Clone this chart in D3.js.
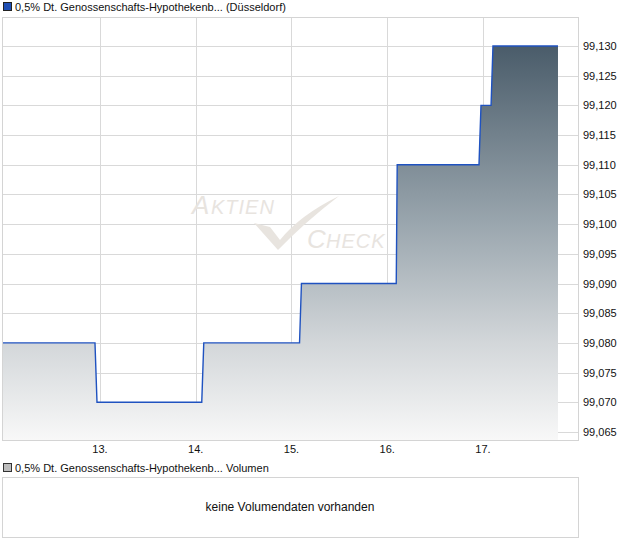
<!DOCTYPE html>
<html><head><meta charset="utf-8">
<script src="https://cdn.jsdelivr.net/npm/d3@7"></script>
<style>body{margin:0;background:#fff;} svg{display:block;font-family:"Liberation Sans",Arial,sans-serif;}</style>
</head><body>
<script>
const title = "0,5% Dt. Genossenschafts-Hypothekenb... (Düsseldorf)";
const volTitle = "0,5% Dt. Genossenschafts-Hypothekenb... Volumen";
const noVolText = "keine Volumendaten vorhanden";
// time as fractional day of month
const days = [11.977, 12.948, 12.969, 14.063, 14.084, 15.084, 15.104, 16.094, 16.104, 16.958, 16.979, 17.084, 17.104, 17.783];
const prices = [99.08, 99.08, 99.07, 99.07, 99.08, 99.08, 99.09, 99.09, 99.11, 99.11, 99.12, 99.12, 99.13, 99.13];
const xTicks = [13, 14, 15, 16, 17];
const xTickLabels = ["13.", "14.", "15.", "16.", "17."];
const yTicks = [99.065, 99.07, 99.075, 99.08, 99.085, 99.09, 99.095, 99.1, 99.105, 99.11, 99.115, 99.12, 99.125, 99.13];

const W = 620, H = 546;
const L = 2, R = 578, T = 17, B = 440;
const svg = d3.select("body").append("svg").attr("width", W).attr("height", H);

const x = d3.scaleLinear().domain([11.977, 17.992]).range([L, R]);
const y = d3.scaleLinear().domain([99.06365, 99.13488]).range([B, T]);

const defs = svg.append("defs");
const grad = defs.append("linearGradient").attr("id", "g").attr("gradientUnits", "userSpaceOnUse")
  .attr("x1", 0).attr("x2", 0).attr("y1", y(99.13)).attr("y2", B);
grad.append("stop").attr("offset", 0).attr("stop-color", "#4a5c6a");
grad.append("stop").attr("offset", 0.45).attr("stop-color", "#9aa6ae");
grad.append("stop").attr("offset", 0.75).attr("stop-color", "#d2d6d9");
grad.append("stop").attr("offset", 1).attr("stop-color", "#f8f8f8");

// legend top
svg.append("rect").attr("x", 3.5).attr("y", 2.5).attr("width", 8).attr("height", 8).attr("fill", "#1f4fb4").attr("stroke", "#222");
svg.append("text").attr("x", 15).attr("y", 10.5).attr("font-size", 11).attr("fill", "#111").text(title);

// grid
const grid = svg.append("g").attr("stroke", "#d9d9d9").attr("stroke-width", 1).attr("shape-rendering", "crispEdges");
grid.selectAll(".h").data(yTicks).enter().append("line")
  .attr("x1", L).attr("x2", R).attr("y1", d => Math.round(y(d)) + 0.5).attr("y2", d => Math.round(y(d)) + 0.5);
grid.selectAll(".v").data(xTicks).enter().append("line")
  .attr("y1", T).attr("y2", B).attr("x1", d => Math.round(x(d)) + 0.5).attr("x2", d => Math.round(x(d)) + 0.5);

// watermark
const wm = svg.append("g").attr("fill", "#e8e4df").attr("font-style", "italic");
wm.append("text").attr("x", 192).attr("y", 214).attr("font-size", 26).text("A");
wm.append("text").attr("x", 211).attr("y", 214).attr("font-size", 20).attr("letter-spacing", 1).text("KTIEN");
wm.append("text").attr("x", 307).attr("y", 248).attr("font-size", 26).text("C");
wm.append("text").attr("x", 326).attr("y", 248).attr("font-size", 20).attr("letter-spacing", 1).text("HECK");
wm.append("path").attr("d", "M254,223 L270,227 L280,240 Q300,215 339,196 Q305,222 278,250 Z");

// area + line
const area = d3.area().x((d, i) => x(days[i])).y0(B).y1(d => y(d));
svg.append("path").datum(prices).attr("d", area).attr("fill", "url(#g)");
const line = d3.line().x((d, i) => x(days[i])).y(d => y(d));
svg.append("path").datum(prices).attr("d", line).attr("fill", "none").attr("stroke", "#1f52c0").attr("stroke-width", 1.4);

// frame
svg.append("rect").attr("x", L + 0.5).attr("y", T + 0.5).attr("width", R - L).attr("height", B - T)
  .attr("fill", "none").attr("stroke", "#d4d4d4").attr("shape-rendering", "crispEdges");

// y labels
svg.append("g").selectAll("text").data(yTicks).enter().append("text")
  .attr("x", 583).attr("y", d => y(d) + 4).attr("font-size", 11).attr("fill", "#111")
  .text(d => d3.format(".3f")(d).replace(".", ","));
// x labels
svg.append("g").selectAll("text").data(xTicks).enter().append("text")
  .attr("x", d => x(d)).attr("y", 453).attr("text-anchor", "middle").attr("font-size", 11).attr("fill", "#111")
  .text((d, i) => xTickLabels[i]);

// volume legend + panel
svg.append("rect").attr("x", 3.5).attr("y", 463.5).attr("width", 8).attr("height", 8).attr("fill", "#bdbdbd").attr("stroke", "#333");
svg.append("text").attr("x", 15).attr("y", 472).attr("font-size", 11).attr("fill", "#111").text(volTitle);
svg.append("rect").attr("x", 2.5).attr("y", 477.5).attr("width", R - L).attr("height", 60)
  .attr("fill", "none").attr("stroke", "#d4d4d4").attr("shape-rendering", "crispEdges");
svg.append("text").attr("x", (L + R) / 2).attr("y", 511).attr("text-anchor", "middle").attr("font-size", 12).attr("fill", "#111").text(noVolText);
</script>
</body></html>
